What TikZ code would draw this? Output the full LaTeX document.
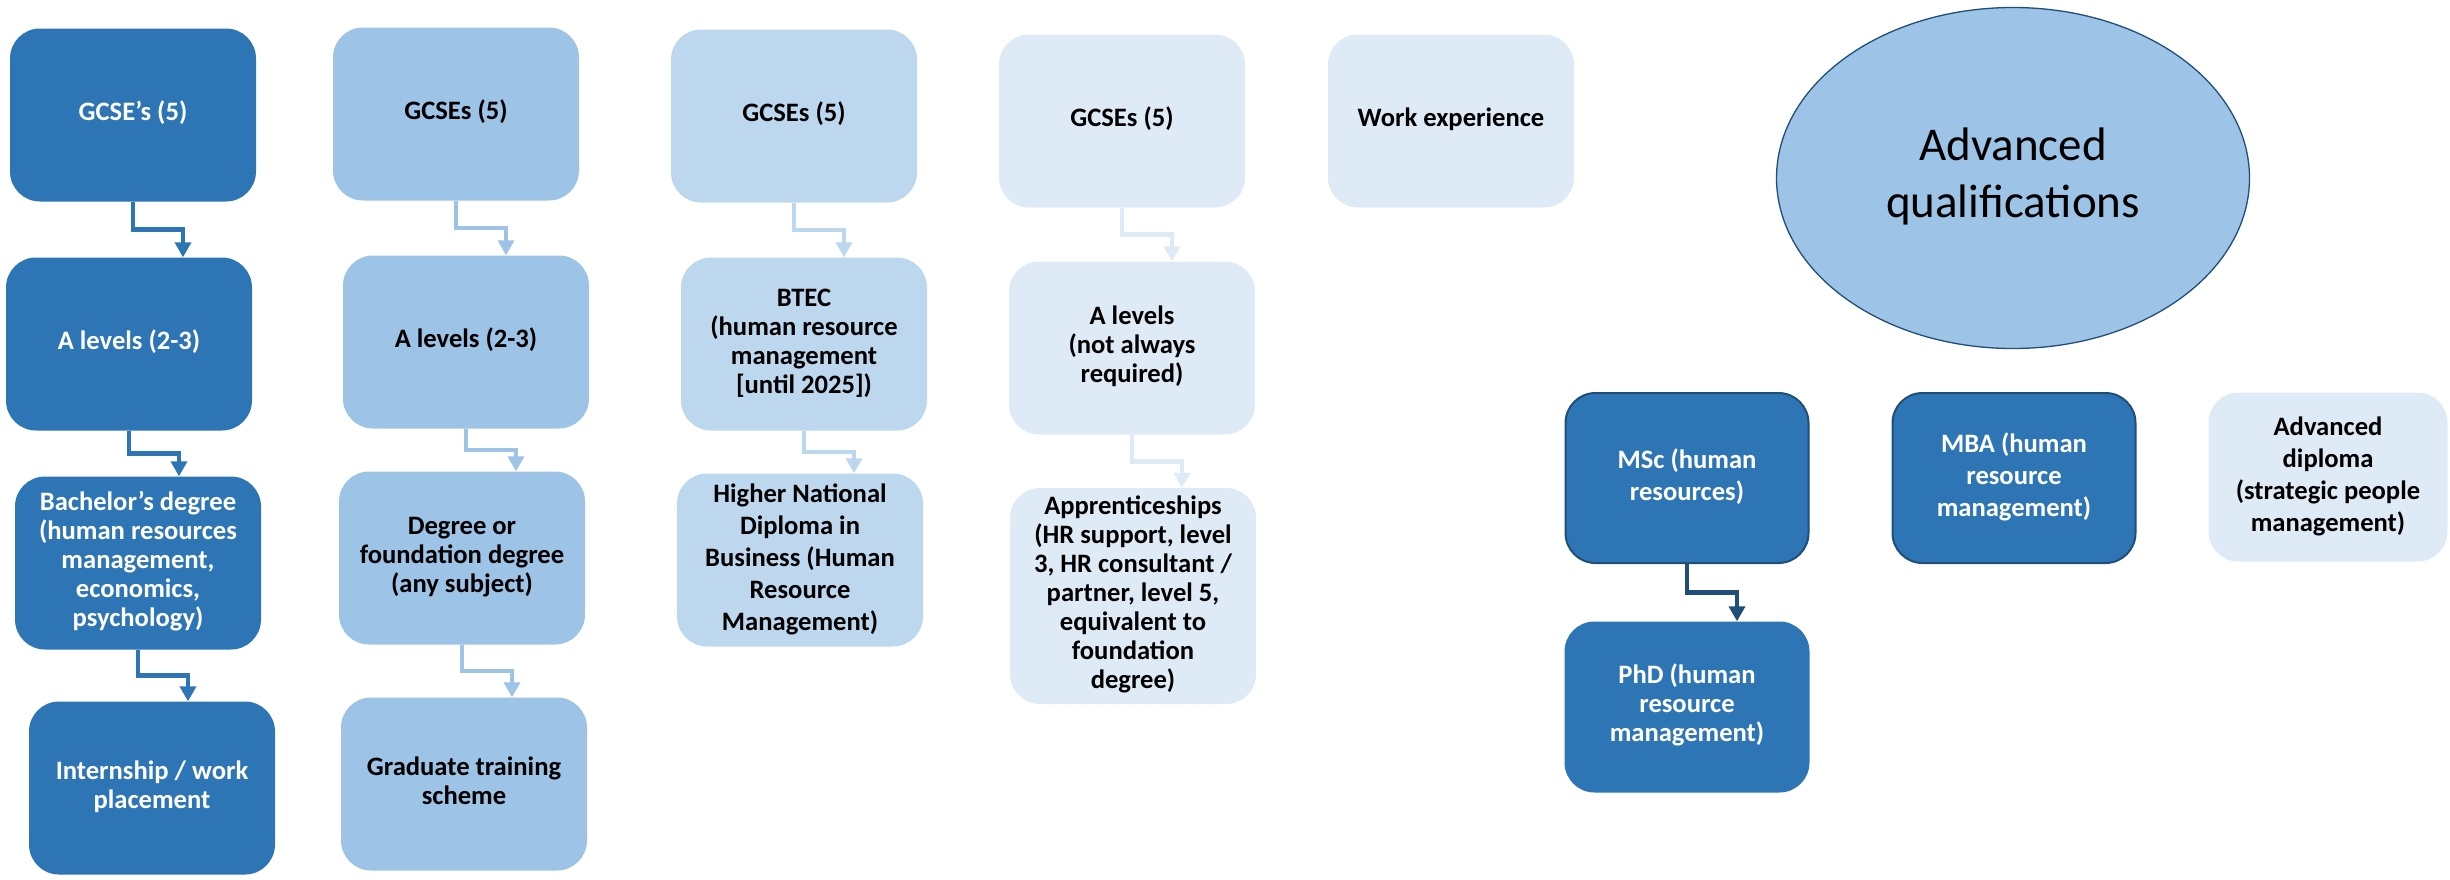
\documentclass[tikz,border=0pt]{standalone}
\usepackage{fontspec}
\setmainfont{Carlito}
\usetikzlibrary{arrows.meta,calc,shapes.geometric}
\newcommand{\lbl}[1]{\begin{tabular}{@{}c@{}}#1\end{tabular}}

\begin{document}
\begin{tikzpicture}[x=1pt,y=-1pt,
    box/.style={rounded corners=30pt,inner sep=0pt,minimum width=246pt,minimum height=173pt,
      font=\fontsize{26.6}{29}\selectfont\bfseries},
    boxa/.style={box,fill=bluea,text=white},
    boxb/.style={box,fill=blueb},
    boxc/.style={box,fill=bluec},
    boxd/.style={box,fill=blued},
    wide/.style={font=\fontsize{26.6}{32}\selectfont\bfseries},
    arr/.style={line width=4.5pt,-{Triangle[width=16pt,length=15pt]}}]
    \definecolor{bluea}{HTML}{2E75B6}
    \definecolor{blueb}{HTML}{9DC3E6}
    \definecolor{bluec}{HTML}{BDD7EE}
    \definecolor{blued}{HTML}{DEEBF7}
    \definecolor{bluee}{HTML}{1F4E79}
    \useasboundingbox (0,0) rectangle (2450,879);
    % degree route
    \node[boxa] (a1) at (133,115) {\lbl{GCSE’s (5)}};
    \node[boxa] (a2) at (129,344) {\lbl{A levels (2-3)}};
    \node[boxa] (a3) at (138,563) {\lbl{Bachelor’s degree\\(human resources\\management,\\economics,\\psychology)}};
    \node[boxa] (a4) at (152,788) {\lbl{Internship / work\\placement}};
    % graduate scheme
    \node[boxb] (b1) at (456,114) {\lbl{GCSEs (5)}};
    \node[boxb] (b2) at (466,342) {\lbl{A levels (2-3)}};
    \node[boxb] (b3) at (462,558) {\lbl{Degree or\\foundation degree\\(any subject)}};
    \node[boxb] (b4) at (464,784) {\lbl{Graduate training\\scheme}};
    % college
    \node[boxc] (c1) at (794,116) {\lbl{GCSEs (5)}};
    \node[boxc] (c2) at (804,344) {\lbl{BTEC\\(human resource\\management\\{[}until 2025{]})}};
    \node[boxc,wide] (c3) at (800,560) {\lbl{Higher National\\Diploma in\\Business (Human\\Resource\\Management)}};
    % apprenticeship
    \node[boxd] (d1) at (1122,121) {\lbl{GCSEs (5)}};
    \node[boxd] (d2) at (1132,348) {\lbl{A levels\\(not always\\required)}};
    \node[boxd,minimum height=216pt] (d3) at (1133,596)
      {\lbl{Apprenticeships\\(HR support, level\\3, HR consultant /\\partner, level 5,\\equivalent to\\foundation\\degree)}};
    \node[boxd] (work) at (1451,121) {\lbl{Work experience}};
    % advanced
    \node[ellipse,fill=blueb,draw=bluee,line width=1.3pt,minimum width=473pt,minimum height=341pt,
      inner sep=0pt,font=\fontsize{47}{57}\selectfont] (adv) at (2013,178) {\lbl{Advanced\\qualifications}};
    \node[boxa,wide,draw=bluee,line width=2pt,minimum width=243pt,minimum height=170pt] (msc) at (1687,478) {\lbl{MSc (human\\resources)}};
    \node[boxa,wide,draw=bluee,line width=2pt,minimum width=243pt,minimum height=170pt] (mba) at (2014,478) {\lbl{MBA (human\\resource\\management)}};
    \node[boxd,wide,minimum width=239pt,minimum height=169pt] (dip) at (2328,477)
      {\lbl{Advanced\\diploma\\(strategic people\\management)}};
    \node[boxa,minimum width=245pt,minimum height=171pt] (phd) at (1687,707) {\lbl{PhD (human\\resource\\management)}};
    \foreach \s/\t/\c in {a1/a2/bluea,a2/a3/bluea,a3/a4/bluea,b1/b2/blueb,b2/b3/blueb,b3/b4/blueb,
        c1/c2/bluec,c2/c3/bluec,d1/d2/blued,d2/d3/blued,msc/phd/bluee}
      \draw[arr,\c] (\s.south) -- ($(\s.south)!.5!(\s.south|-\t.north)$) -| ([xshift=50pt]\s.south|-\t.north);
\end{tikzpicture}
\end{document}
